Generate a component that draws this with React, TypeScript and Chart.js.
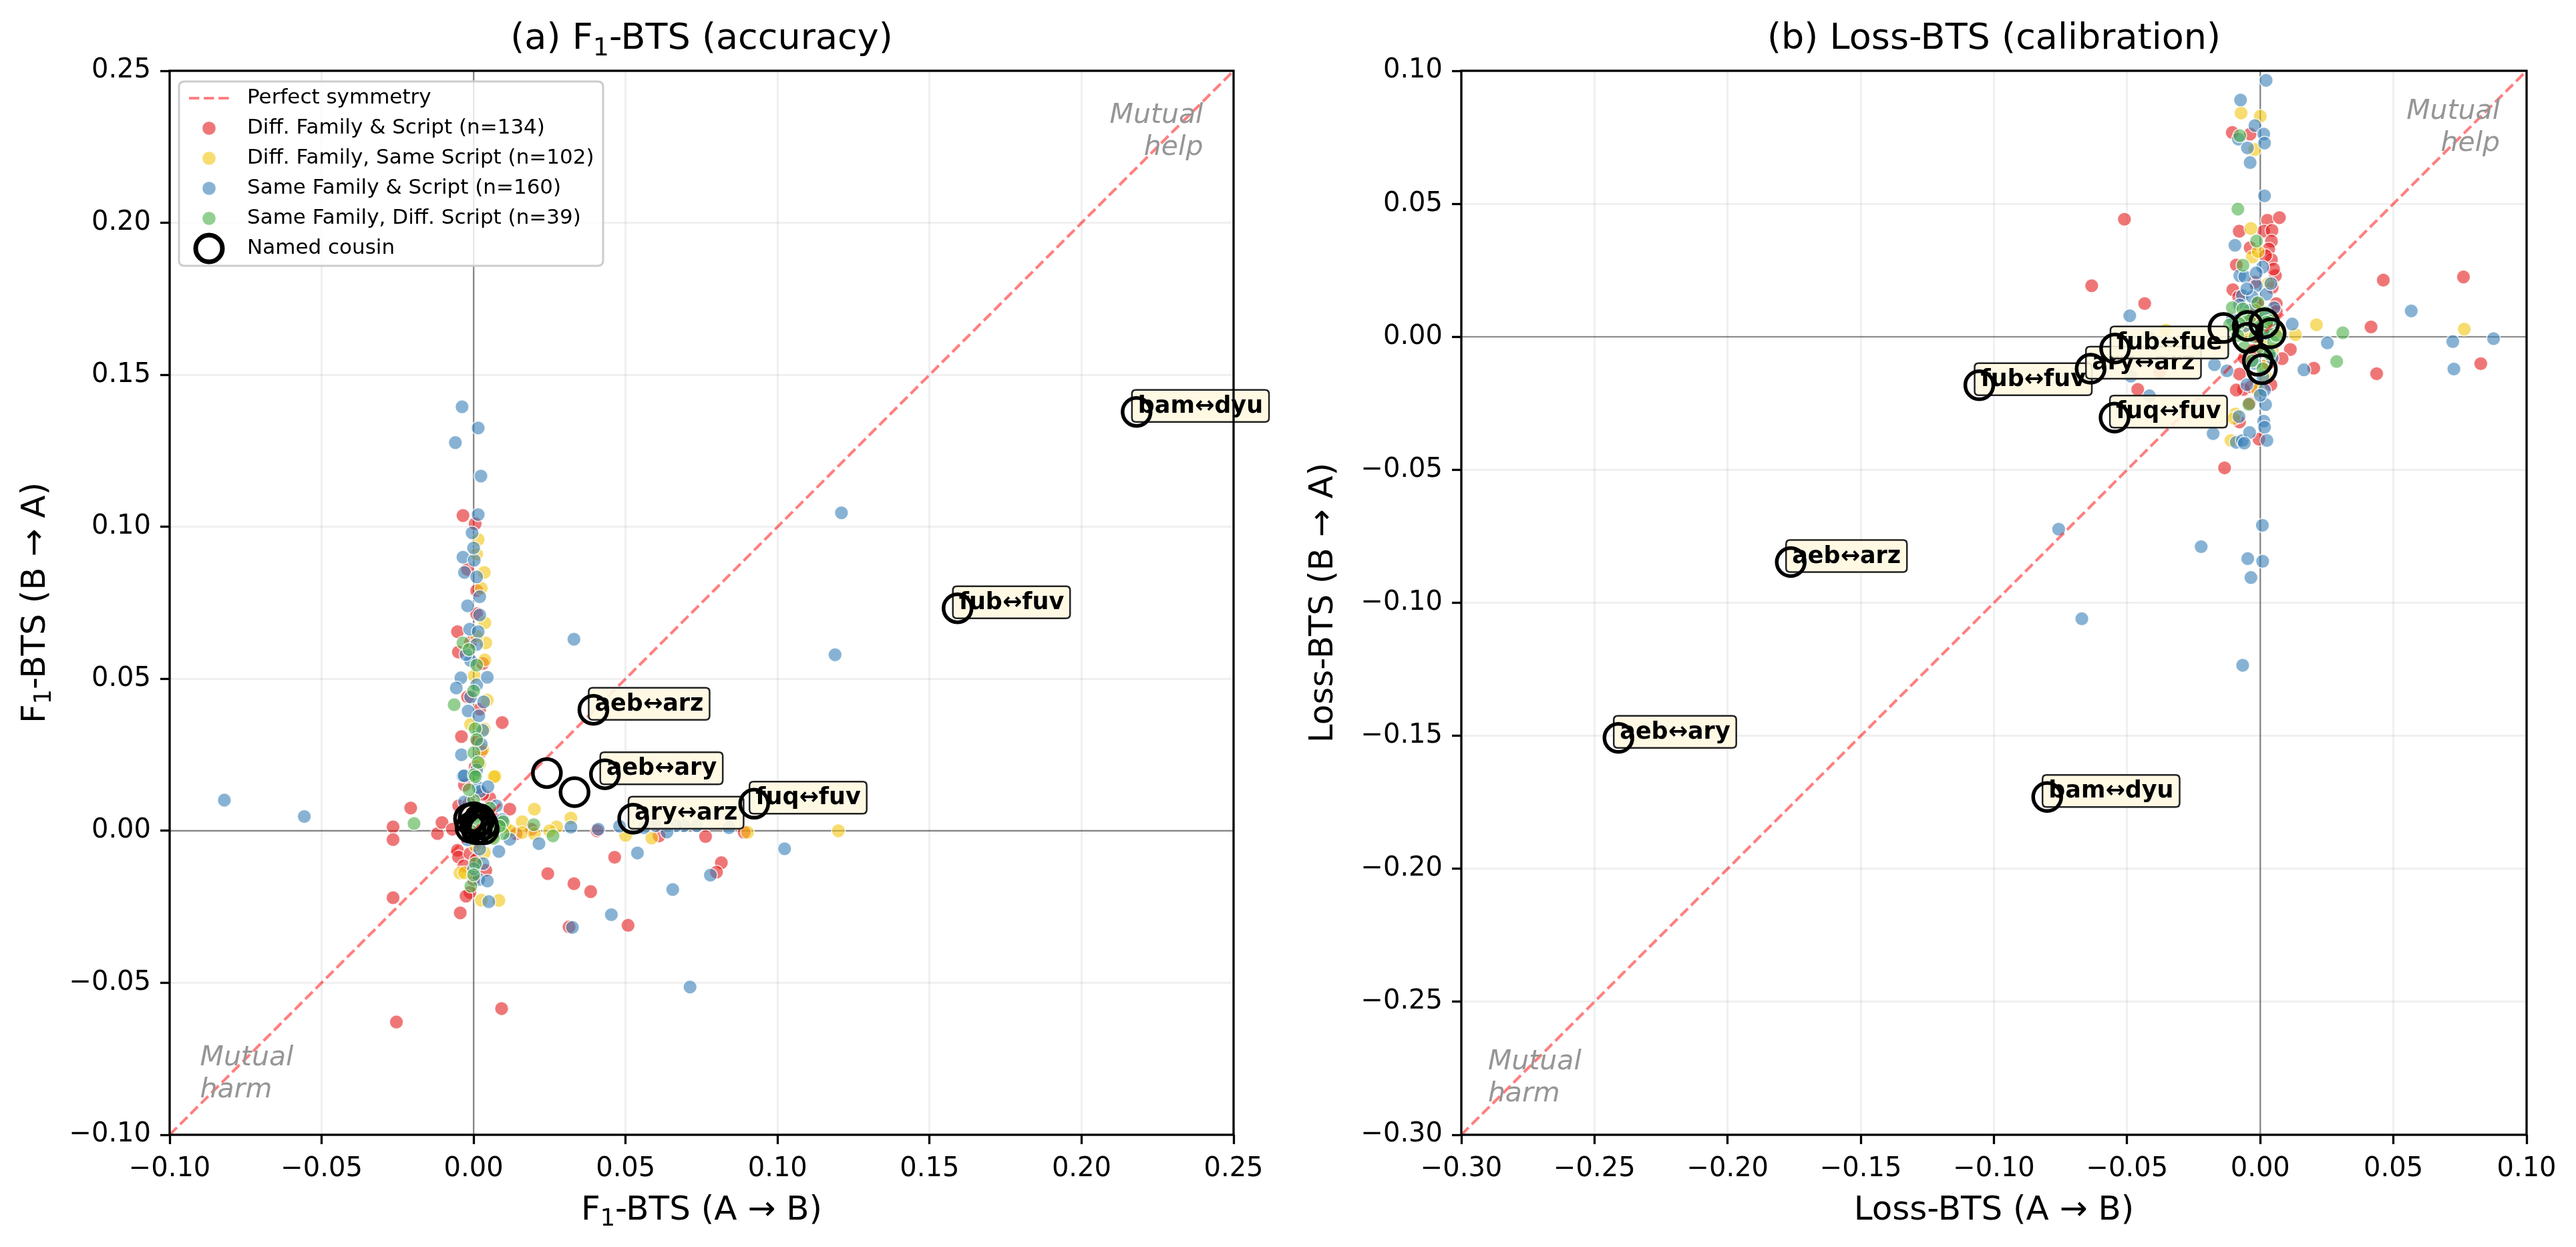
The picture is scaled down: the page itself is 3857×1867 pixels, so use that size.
import React, { useEffect, useRef } from 'react';
import { Chart, registerables } from 'chart.js';

Chart.register(...registerables);

type Pt = [number, number];

// ---------------- Panel (a): F1-BTS ----------------
const f1DiffFamilyScript: Pt[] = [
  [-0.0035, 0.1037], [0.0005, 0.101], [0.001, 0.0714], [-0.0053, 0.0655], [-0.005, 0.0588], [0.0094, 0.0356],
  [0.0012, 0.0294], [-0.0207, 0.0075], [-0.0265, 0.0013], [-0.0265, -0.0029], [-0.0119, -0.0009], [-0.0104, 0.0027],
  [0.0119, 0.0071], [0.0464, -0.0087], [0.0244, -0.0141], [0.033, -0.0174], [0.0385, -0.02], [-0.0265, -0.022],
  [-0.0044, -0.027], [0.0406, 0.0], [0.0314, -0.0316], [0.0508, -0.0311], [-0.0254, -0.0629], [0.0092, -0.0585],
  [0.0763, -0.0019], [0.0815, -0.0105], [0.0799, -0.0136], [0.061, -0.0017], [0.089, -0.0005], [-0.0049, 0.0082],
  [0.0053, 0.0108], [-0.0053, -0.0064], [-0.005, -0.0086], [-0.0012, -0.0075], [-0.0032, -0.0115], [-0.0012, -0.0203],
  [0.0005, 0.021], [-0.002, 0.044], [0.002, 0.04], [-0.004, 0.031], [0.003, 0.012], [-0.003, 0.015], [0.006, 0.005],
  [0.002, -0.004], [-0.007, 0.0005], [0.004, -0.013], [0.0, -0.016], [0.001, 0.079], [-0.002, 0.086], [0.003, 0.055],
  [0.014, -0.001], [0.019, 0.0005], [-0.001, 0.062], [0.0025, 0.026], [-0.0015, 0.009], [0.0008, -0.0095],
  [-0.0025, -0.0215], [0.0045, 0.0015],
];
const f1DiffFamilySameScript: Pt[] = [
  [0.0015, 0.0958], [0.0025, 0.0798], [0.0037, 0.0684], [0.004, 0.0618], [0.0037, 0.0562], [0.0002, 0.051],
  [0.003, 0.0268], [0.0072, 0.018], [0.0068, 0.0178], [0.02, 0.0071], [0.032, 0.0042], [0.0273, 0.0013],
  [0.016, 0.003], [0.016, -0.0006], [0.02, -0.001], [0.0025, -0.0228], [0.0083, -0.0229], [-0.0045, -0.0139],
  [-0.003, -0.0138], [0.0035, -0.0072], [0.12, 0.0], [0.0586, -0.0024], [0.0901, -0.0005], [0.0035, 0.085],
  [0.001, 0.091], [-0.001, 0.035], [0.002, 0.022], [0.05, -0.0015], [0.0104, 0.0015], [0.012, 0.0], [-0.002, 0.004],
  [0.006, -0.002], [0.001, 0.064], [0.0045, 0.043], [-0.0005, 0.0075], [0.0055, 0.0005], [0.025, 0.0],
  [0.0006, -0.005], [0.0035, 0.0335], [0.0085, 0.0025],
];
const f1SameFamilyScript: Pt[] = [
  [-0.0038, 0.1395], [0.0015, 0.1325], [-0.006, 0.1277], [0.0024, 0.1167], [0.0015, 0.104], [-0.0005, 0.098],
  [-0.0035, 0.09], [0.0002, 0.089], [-0.003, 0.085], [0.001, 0.0835], [-0.0013, 0.0663], [0.0015, 0.0655],
  [0.001, 0.0613], [-0.0042, 0.0503], [-0.0057, 0.047], [0.001, 0.048], [0.0033, 0.0424], [-0.0018, 0.0394],
  [0.0017, 0.0378], [-0.0035, 0.018], [0.0015, 0.0143], [-0.0031, 0.0181], [0.0021, 0.013], [0.0047, 0.0145],
  [0.0075, 0.0082], [0.0094, 0.0037], [0.0215, -0.0042], [0.0119, -0.0028], [0.005, -0.0233], [0.0017, -0.016],
  [0.0031, -0.0108], [0.0083, -0.0068], [-0.082, 0.0101], [-0.0557, 0.0047], [0.121, 0.1046], [0.1189, 0.0579],
  [0.033, 0.063], [0.1023, -0.0059], [0.084, 0.001], [0.0734, 0.0017], [0.0692, 0.0017], [0.0666, 0.0017],
  [0.0636, -0.0004], [0.0599, 0.0017], [0.0539, -0.0073], [0.0779, -0.0146], [0.0655, -0.0193], [0.0453, -0.0276],
  [0.0712, -0.0514], [0.0325, -0.0318], [0.041, 0.0005], [-0.002, 0.074], [0.002, 0.071], [-0.001, 0.056],
  [0.003, 0.033], [-0.004, 0.025], [0.001, 0.02], [0.004, 0.006], [-0.002, -0.003], [0.002, -0.006], [0.0, 0.093],
  [0.002, 0.077], [-0.001, 0.044], [0.005, 0.003], [0.0065, 0.0], [0.032, 0.0012], [-0.003, 0.0095], [0.0, -0.0125],
  [0.0045, -0.0165], [0.0025, 0.0285], [-0.0025, 0.058], [0.0045, 0.0505], [0.048, 0.0015], [0.056, 0.001],
];
const f1SameFamilyDiffScript: Pt[] = [
  [-0.0035, 0.0618], [-0.0015, 0.0596], [0.001, 0.0545], [-0.0064, 0.0415], [0.0005, 0.0336], [0.0001, 0.0257],
  [0.0002, 0.0184], [0.0006, 0.0178], [-0.0196, 0.0024], [0.0198, 0.002], [0.0261, -0.0017], [0.0097, 0.003],
  [0.0097, -0.0009], [0.0053, 0.0075], [-0.0009, -0.0182], [0.0006, -0.0108], [0.0, 0.01], [0.001, 0.005],
  [0.002, 0.002], [-0.001, 0.0], [0.003, -0.001], [0.004, 0.001], [0.001, 0.03], [0.0, 0.046], [0.0, -0.0145],
  [0.007, 0.0005], [-0.0015, 0.0135], [0.0015, 0.0225], [0.0085, 0.0015], [0.0065, -0.0025],
];
const f1Cousins: Pt[] = [
  [0.2181, 0.1378], [0.1592, 0.0732], [0.0394, 0.0398], [0.0432, 0.0186], [0.0525, 0.004], [0.0923, 0.0089],
  [0.0241, 0.019], [0.0332, 0.0127], [-0.0015, 0.004], [0.0, 0.0045], [0.0015, 0.003], [0.003, 0.002],
  [0.0033, 0.0005], [0.001, 0.0005], [-0.001, 0.001], [0.002, 0.0038], [0.0005, 0.002],
];
const f1CousinLabels: string[] = ['bam↔dyu', 'fub↔fuv', 'aeb↔arz', 'aeb↔ary', 'ary↔arz', 'fuq↔fuv'];

// ---------------- Panel (b): Loss-BTS ----------------
const lossDiffFamilyScript: Pt[] = [
  [-0.0105, 0.0768], [-0.0038, 0.0762], [-0.051, 0.0442], [0.0027, 0.0438], [0.0072, 0.0448], [-0.0079, 0.0397],
  [0.0013, 0.0397], [0.0044, 0.04], [0.0042, 0.036], [-0.0038, 0.0335], [0.0032, 0.033], [0.0042, 0.029],
  [-0.0633, 0.0192], [-0.009, 0.027], [0.0057, 0.023], [-0.0434, 0.0125], [-0.0103, 0.0177], [-0.0081, 0.015],
  [0.0416, 0.0037], [0.0462, 0.0213], [0.0763, 0.0225], [0.0201, -0.0118], [0.0437, -0.0139], [0.0828, -0.0101],
  [0.0113, -0.0048], [0.0082, -0.0082], [-0.0078, -0.014], [-0.0063, -0.0198], [-0.0035, -0.0187], [-0.046, -0.0198],
  [-0.0378, -0.0132], [-0.0078, -0.032], [-0.0005, -0.0385], [-0.0134, -0.0493], [0.002, 0.0305], [0.005, 0.0255],
  [-0.002, 0.0205], [0.0045, 0.0185], [0.006, 0.0125], [-0.003, 0.008], [0.001, 0.005], [-0.006, -0.008],
  [-0.002, -0.005], [0.003, -0.01], [-0.004, -0.025], [0.0015, 0.0035], [0.006, 0.0095], [-0.001, 0.0125],
  [0.004, -0.018], [-0.009, -0.02],
];
const lossDiffFamilySameScript: Pt[] = [
  [-0.0072, 0.0841], [0.0, 0.0829], [-0.0021, 0.0704], [-0.0035, 0.0407], [0.0211, 0.0045], [0.0132, 0.0008],
  [0.0766, 0.0029], [-0.0093, -0.029], [-0.011, -0.039], [-0.0098, -0.0307], [-0.0354, 0.0025], [-0.002, 0.01],
  [0.001, -0.003], [-0.005, 0.002], [0.003, 0.02], [-0.001, -0.02], [0.0, 0.006], [0.002, -0.015], [-0.003, 0.03],
  [0.006, 0.002], [0.0045, -0.005], [-0.0008, 0.032], [0.0015, -0.011],
];
const lossSameFamilyScript: Pt[] = [
  [0.0022, 0.0964], [-0.0074, 0.089], [-0.002, 0.0794], [0.0013, 0.0762], [-0.0082, 0.0743], [0.0016, 0.0728],
  [-0.0048, 0.071], [-0.0038, 0.0655], [0.0016, 0.053], [-0.0095, 0.0344], [0.0009, 0.0262], [-0.0077, 0.023],
  [-0.0058, 0.0226], [-0.0015, 0.0192], [0.0023, 0.016], [-0.049, 0.0079], [-0.0067, 0.0155], [0.0052, 0.0109],
  [-0.0078, 0.012], [0.012, 0.0048], [0.0252, -0.0023], [0.0164, -0.0124], [0.0567, 0.0097], [0.0723, -0.0018],
  [0.0876, -0.0007], [0.0727, -0.0121], [-0.0172, -0.0105], [-0.0125, -0.0128], [-0.0416, -0.0222], [-0.0486, -0.0148],
  [0.0016, -0.02], [0.002, -0.0255], [0.0013, -0.0317], [-0.0177, -0.0364], [-0.009, -0.0397], [-0.0067, -0.039],
  [0.0016, -0.034], [-0.0757, -0.0723], [0.0008, -0.0709], [-0.0222, -0.0789], [-0.0047, -0.0834], [0.0009, -0.0844],
  [-0.067, -0.106], [-0.0066, -0.1235], [-0.0035, -0.0905], [-0.004, 0.01], [0.002, 0.008], [-0.006, 0.004],
  [0.003, -0.006], [-0.002, -0.01], [0.001, -0.015], [-0.003, 0.015], [0.004, 0.02], [-0.005, -0.018], [0.0, -0.022],
  [-0.008, -0.03], [-0.004, -0.036], [0.0025, -0.039], [-0.006, -0.04], [-0.005, 0.018], [0.003, 0.001],
  [-0.001, 0.003], [0.0045, -0.008], [-0.0015, 0.024], [-0.0105, 0.0065], [0.005, 0.0045],
];
const lossSameFamilyDiffScript: Pt[] = [
  [-0.0077, 0.0756], [-0.0084, 0.048], [-0.0014, 0.036], [-0.0065, 0.0269], [-0.0009, 0.0128], [-0.0105, 0.011],
  [0.031, 0.0015], [0.0287, -0.0093], [-0.0043, -0.0254], [-0.004, 0.006], [0.0, 0.004], [0.003, 0.002],
  [-0.002, 0.0], [0.005, -0.002], [-0.006, 0.008], [0.001, -0.005], [-0.003, -0.009], [0.002, 0.009],
  [-0.008, 0.005], [0.004, 0.006], [0.001, -0.012], [-0.006, -0.004], [-0.042, 0.0002], [-0.0095, 0.003],
  [0.0035, -0.0065], [-0.0115, 0.0045], [-0.0085, 0.0005], [0.006, 0.0005], [-0.0065, 0.0105], [0.0025, 0.0055],
];
const lossCousins: Pt[] = [
  [-0.1055, -0.0182], [-0.0637, -0.012], [-0.0545, -0.0044], [-0.0547, -0.0304], [-0.1763, -0.0847],
  [-0.241, -0.1508], [-0.08, -0.173], [-0.0138, 0.0033], [-0.0047, 0.0041], [0.0015, 0.0051], [0.0039, 0.0013],
  [-0.0047, -0.0004], [-0.0009, -0.009], [0.0006, -0.0122],
];
const lossCousinLabels: string[] = ['fub↔fuv', 'ary↔arz', 'fub↔fue', 'fuq↔fuv', 'aeb↔arz', 'aeb↔ary', 'bam↔dyu'];

// ---------------- shared text ----------------
const legendLabels: string[] = [
  'Perfect symmetry',
  'Diff. Family & Script (n=134)',
  'Diff. Family, Same Script (n=102)',
  'Same Family & Script (n=160)',
  'Same Family, Diff. Script (n=39)',
  'Named cousin',
];
const f1Ticks: number[] = [-0.1, -0.05, 0.0, 0.05, 0.1, 0.15, 0.2, 0.25];
const lossTicks: number[] = [-0.3, -0.25, -0.2, -0.15, -0.1, -0.05, 0.0, 0.05, 0.1];

const FONT = '"DejaVu Sans", sans-serif';
const COLORS = {
  red: 'rgba(228,26,28,0.6)',
  yellow: 'rgba(241,196,15,0.6)',
  blue: 'rgba(55,126,184,0.6)',
  green: 'rgba(77,175,74,0.6)',
};
const DIAG_COLOR = 'rgba(255,0,0,0.5)';

interface Panel {
  title: string;
  xLabel: string;
  yLabel: string;
  min: number;
  max: number;
  ticks: number[];
  yWidth: number;
  padRight: number;
  series: Pt[][];
  cousins: Pt[];
  cousinLabels: string[];
  helpAt: number;
  harmAt: number;
  legend: boolean;
}

const fmt = (v: number) => {
  if (Math.abs(v) < 1e-9) return '0.00';
  return v < 0 ? '\u2212' + Math.abs(v).toFixed(2) : v.toFixed(2);
};

function roundRect(ctx: CanvasRenderingContext2D, x: number, y: number, w: number, h: number, r: number) {
  ctx.beginPath();
  ctx.moveTo(x + r, y);
  ctx.lineTo(x + w - r, y);
  ctx.quadraticCurveTo(x + w, y, x + w, y + r);
  ctx.lineTo(x + w, y + h - r);
  ctx.quadraticCurveTo(x + w, y + h, x + w - r, y + h);
  ctx.lineTo(x + r, y + h);
  ctx.quadraticCurveTo(x, y + h, x, y + h - r);
  ctx.lineTo(x, y + r);
  ctx.quadraticCurveTo(x, y, x + r, y);
  ctx.closePath();
}

// draws text where "₁" is rendered as a smaller, lowered "1"
function drawSubText(ctx: CanvasRenderingContext2D, text: string, x: number, y: number, size: number) {
  const base = `${size}px ${FONT}`;
  ctx.font = base;
  const parts = text.split('\u2081');
  if (parts.length === 1) {
    ctx.fillText(text, x, y);
    return;
  }
  const prevAlign = ctx.textAlign;
  const sub = `${Math.round(size * 0.7)}px ${FONT}`;
  const w0 = ctx.measureText(parts[0]).width;
  const w2 = ctx.measureText(parts[1]).width;
  ctx.font = sub;
  const w1 = ctx.measureText('1').width;
  const total = w0 + w1 + w2;
  let start = x;
  if (prevAlign === 'center') start = x - total / 2;
  else if (prevAlign === 'right') start = x - total;
  ctx.textAlign = 'left';
  ctx.font = base;
  ctx.fillText(parts[0], start, y);
  ctx.font = sub;
  ctx.fillText('1', start + w0, y + size * 0.18);
  ctx.font = base;
  ctx.fillText(parts[1], start + w0 + w1, y);
  ctx.textAlign = prevAlign;
}

function makePlugin(p: Panel) {
  return {
    id: 'panelDecor',
    beforeDatasetsDraw(chart: any) {
      const { ctx, chartArea: a, scales } = chart;
      const x0 = scales.x.getPixelForValue(0);
      const y0 = scales.y.getPixelForValue(0);
      ctx.save();
      ctx.beginPath();
      ctx.rect(a.left, a.top, a.right - a.left, a.bottom - a.top);
      ctx.clip();
      ctx.strokeStyle = 'rgba(0,0,0,0.45)';
      ctx.lineWidth = 2.2;
      ctx.beginPath();
      ctx.moveTo(a.left, y0);
      ctx.lineTo(a.right, y0);
      ctx.moveTo(x0, a.top);
      ctx.lineTo(x0, a.bottom);
      ctx.stroke();
      ctx.restore();
    },
    beforeDatasetDraw(chart: any, args: any) {
      if (args.index !== 5) return;
      const { ctx, scales } = chart;
      ctx.save();
      ctx.font = `bold 35px ${FONT}`;
      ctx.textBaseline = 'middle';
      ctx.textAlign = 'left';
      p.cousinLabels.forEach((lab, i) => {
        const cx = scales.x.getPixelForValue(p.cousins[i][0]);
        const cy = scales.y.getPixelForValue(p.cousins[i][1]);
        const w = ctx.measureText(lab).width;
        const left = cx - 7;
        const h = 48;
        const mid = cy - 9;
        roundRect(ctx, left, mid - h / 2, w + 18, h, 6);
        ctx.fillStyle = 'rgba(255,248,225,0.9)';
        ctx.fill();
        ctx.lineWidth = 2.5;
        ctx.strokeStyle = '#222';
        ctx.stroke();
        ctx.fillStyle = '#000';
        ctx.fillText(lab, left + 9, mid + 1);
      });
      ctx.restore();
    },
    afterDatasetsDraw(chart: any) {
      const { ctx, scales } = chart;
      ctx.save();
      ctx.font = `italic 41px ${FONT}`;
      ctx.fillStyle = 'rgb(150,150,150)';
      ctx.textBaseline = 'alphabetic';
      const hx = scales.x.getPixelForValue(p.helpAt);
      const hy = scales.y.getPixelForValue(p.helpAt);
      ctx.textAlign = 'right';
      ctx.fillText('Mutual', hx, hy + 32);
      ctx.fillText('help', hx, hy + 80);
      const mx = scales.x.getPixelForValue(p.harmAt);
      const my = scales.y.getPixelForValue(p.harmAt);
      ctx.textAlign = 'left';
      ctx.fillText('Mutual', mx, my - 58);
      ctx.fillText('harm', mx, my - 10);
      ctx.restore();
    },
    afterDraw(chart: any) {
      const { ctx, chartArea: a } = chart;
      ctx.save();
      ctx.strokeStyle = '#000';
      ctx.lineWidth = 3.3;
      ctx.strokeRect(a.left, a.top, a.right - a.left, a.bottom - a.top);
      const cx = (a.left + a.right) / 2;
      const cy = (a.top + a.bottom) / 2;
      ctx.fillStyle = '#000';
      ctx.textAlign = 'center';
      ctx.textBaseline = 'alphabetic';
      drawSubText(ctx, p.title, cx, 73, 54);
      drawSubText(ctx, p.xLabel, cx, 1826, 50);
      ctx.save();
      ctx.translate(67, cy);
      ctx.rotate(-Math.PI / 2);
      ctx.textAlign = 'center';
      drawSubText(ctx, p.yLabel, 0, 0, 50);
      ctx.restore();
      if (p.legend) {
        const bx = 268, by = 122, bw = 635, bh = 276;
        roundRect(ctx, bx, by, bw, bh, 8);
        ctx.fillStyle = 'rgba(255,255,255,0.8)';
        ctx.fill();
        ctx.strokeStyle = 'rgb(204,204,204)';
        ctx.lineWidth = 3;
        ctx.stroke();
        const hx = 313;
        const fills = [COLORS.red, COLORS.yellow, COLORS.blue, COLORS.green];
        legendLabels.forEach((lab, i) => {
          const ry = 147 + i * 45;
          if (i === 0) {
            ctx.save();
            ctx.strokeStyle = DIAG_COLOR;
            ctx.lineWidth = 4.2;
            ctx.setLineDash([15.4, 6.7]);
            ctx.beginPath();
            ctx.moveTo(hx - 30, ry);
            ctx.lineTo(hx + 30, ry);
            ctx.stroke();
            ctx.restore();
          } else if (i < 5) {
            ctx.beginPath();
            ctx.arc(hx, ry, 10.5, 0, Math.PI * 2);
            ctx.fillStyle = fills[i - 1];
            ctx.fill();
            ctx.strokeStyle = 'rgba(255,255,255,0.8)';
            ctx.lineWidth = 1.5;
            ctx.stroke();
          } else {
            ctx.beginPath();
            ctx.arc(hx, ry, 20, 0, Math.PI * 2);
            ctx.strokeStyle = '#000';
            ctx.lineWidth = 7;
            ctx.stroke();
          }
          ctx.fillStyle = '#000';
          ctx.font = `31px ${FONT}`;
          ctx.textAlign = 'left';
          ctx.textBaseline = 'middle';
          ctx.fillText(lab, 370, ry);
        });
      }
      ctx.restore();
    },
  };
}

function scatterSet(label: string, pts: Pt[], color: string, order: number) {
  return {
    label,
    data: pts.map(([x, y]) => ({ x, y })),
    backgroundColor: color,
    borderColor: 'rgba(255,255,255,0.8)',
    borderWidth: 1.5,
    pointRadius: 10.3,
    pointHoverRadius: 10.3,
    order,
  };
}

function axis(p: Panel, isX: boolean) {
  return {
    type: 'linear',
    position: isX ? 'bottom' : 'left',
    min: p.min,
    max: p.max,
    afterFit: (s: any) => {
      if (isX) s.height = 168;
      else s.width = p.yWidth;
    },
    afterBuildTicks: (s: any) => {
      s.ticks = p.ticks.map((v) => ({ value: v }));
    },
    ticks: {
      autoSkip: false,
      maxRotation: 0,
      minRotation: 0,
      padding: 14,
      color: '#000',
      font: { family: FONT, size: 40 },
      callback: (v: any) => fmt(Number(v)),
    },
    grid: {
      color: 'rgba(0,0,0,0.06)',
      lineWidth: 3,
      tickColor: '#000',
      tickWidth: 3.3,
      tickLength: 14,
      drawTicks: true,
    },
    border: { display: false },
  };
}

function buildChart(canvas: HTMLCanvasElement, p: Panel) {
  const [red, yellow, blue, green] = p.series;
  const datasets: any[] = [
    scatterSet(legendLabels[1], red, COLORS.red, 6),
    scatterSet(legendLabels[2], yellow, COLORS.yellow, 5),
    scatterSet(legendLabels[3], blue, COLORS.blue, 4),
    scatterSet(legendLabels[4], green, COLORS.green, 3),
    {
      label: legendLabels[0],
      data: [{ x: p.min, y: p.min }, { x: p.max, y: p.max }],
      showLine: true,
      borderColor: DIAG_COLOR,
      borderWidth: 4.2,
      borderDash: [15.4, 6.7],
      pointRadius: 0,
      fill: false,
      order: 2,
    },
    {
      label: legendLabels[5],
      data: p.cousins.map(([x, y]) => ({ x, y })),
      backgroundColor: 'rgba(0,0,0,0)',
      borderColor: '#000',
      borderWidth: 5.5,
      pointRadius: 21,
      pointHoverRadius: 21,
      order: 1,
    },
  ];
  return new Chart(canvas, {
    type: 'scatter',
    data: { datasets },
    options: {
      responsive: false,
      animation: false,
      devicePixelRatio: 1,
      events: [],
      layout: { padding: { left: 0, right: p.padRight, top: 106, bottom: 0 } },
      plugins: { legend: { display: false }, tooltip: { enabled: false }, title: { display: false } },
      scales: { x: axis(p, true), y: axis(p, false) } as any,
    },
    plugins: [makePlugin(p)],
  } as any);
}

const panelA: Panel = {
  title: '(a) F\u2081-BTS (accuracy)',
  xLabel: 'F\u2081-BTS (A \u2192 B)',
  yLabel: 'F\u2081-BTS (B \u2192 A)',
  min: -0.1,
  max: 0.25,
  ticks: f1Ticks,
  yWidth: 254,
  padRight: 81,
  series: [f1DiffFamilyScript, f1DiffFamilySameScript, f1SameFamilyScript, f1SameFamilyDiffScript],
  cousins: f1Cousins,
  cousinLabels: f1CousinLabels,
  helpAt: 0.24,
  harmAt: -0.09,
  legend: true,
};

const panelB: Panel = {
  title: '(b) Loss-BTS (calibration)',
  xLabel: 'Loss-BTS (A \u2192 B)',
  yLabel: 'Loss-BTS (B \u2192 A)',
  min: -0.3,
  max: 0.1,
  ticks: lossTicks,
  yWidth: 260,
  padRight: 74,
  series: [lossDiffFamilyScript, lossDiffFamilySameScript, lossSameFamilyScript, lossSameFamilyDiffScript],
  cousins: lossCousins,
  cousinLabels: lossCousinLabels,
  helpAt: 0.09,
  harmAt: -0.29,
  legend: false,
};

function PanelChart({ panel, width }: { panel: Panel; width: number }) {
  const ref = useRef<HTMLCanvasElement | null>(null);
  useEffect(() => {
    if (!ref.current) return;
    const chart = buildChart(ref.current, panel);
    return () => chart.destroy();
  }, [panel]);
  return <canvas ref={ref} width={width} height={1867} style={{ display: 'block', width, height: 1867 }} />;
}

export default function App() {
  return (
    <div
      style={{
        position: 'absolute',
        left: 0,
        top: 0,
        width: 3857,
        height: 1867,
        display: 'flex',
        background: '#fff',
      }}
    >
      <PanelChart panel={panelA} width={1928} />
      <PanelChart panel={panelB} width={1929} />
    </div>
  );
}
